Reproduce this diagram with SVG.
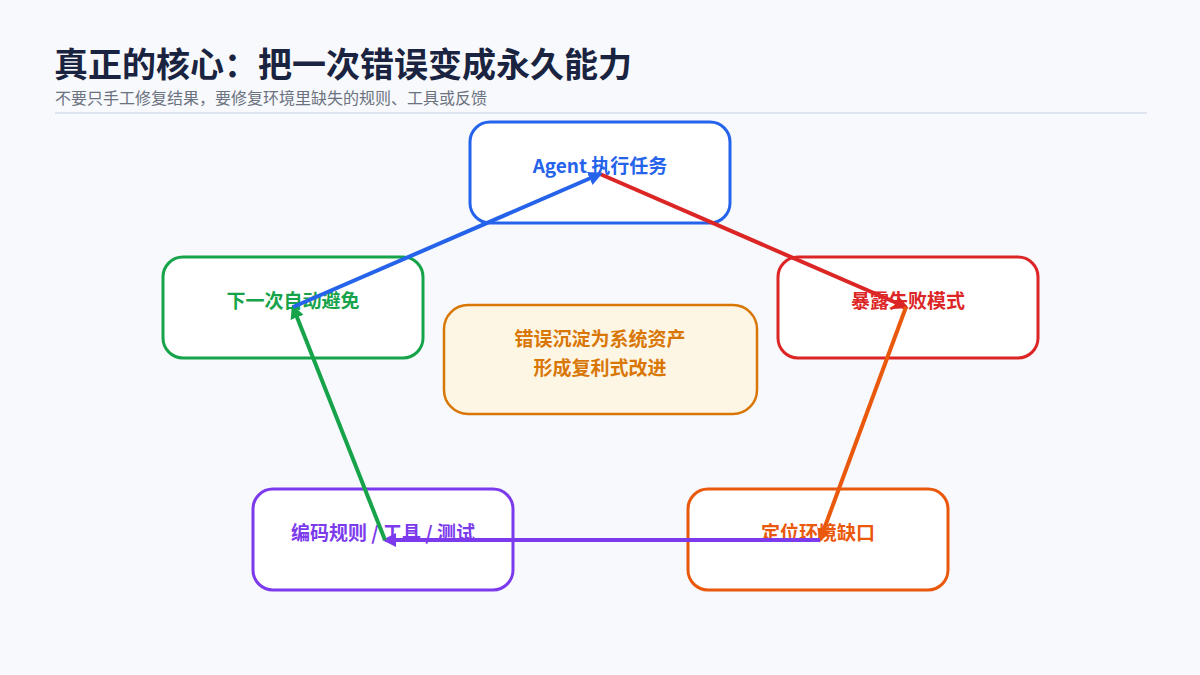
<svg xmlns="http://www.w3.org/2000/svg" width="1200" height="675" viewBox="0 0 1200 675">
<style>
.t{font-family:"Noto Sans CJK SC","Noto Sans",sans-serif;font-weight:bold;text-anchor:middle;dominant-baseline:middle;font-size:19px}
.box{fill:#fff;stroke-width:3}
.c{fill:none;stroke-width:4}
</style>
<defs>
<marker id="mr" viewBox="0 0 10 10" refX="8" refY="5" markerWidth="3.5" markerHeight="3.5" orient="auto"><path d="M0,0L10,5L0,10z" fill="#dc2626"/></marker>
<marker id="mo" viewBox="0 0 10 10" refX="8" refY="5" markerWidth="3.5" markerHeight="3.5" orient="auto"><path d="M0,0L10,5L0,10z" fill="#ea580c"/></marker>
<marker id="mp" viewBox="0 0 10 10" refX="8" refY="5" markerWidth="3.5" markerHeight="3.5" orient="auto"><path d="M0,0L10,5L0,10z" fill="#7c3aed"/></marker>
<marker id="mg" viewBox="0 0 10 10" refX="8" refY="5" markerWidth="3.5" markerHeight="3.5" orient="auto"><path d="M0,0L10,5L0,10z" fill="#16a34a"/></marker>
<marker id="mb" viewBox="0 0 10 10" refX="8" refY="5" markerWidth="3.5" markerHeight="3.5" orient="auto"><path d="M0,0L10,5L0,10z" fill="#2563eb"/></marker>
</defs>
<rect width="1200" height="675" fill="#f7f9fc"/>
<text x="54" y="77" font-family="Noto Sans CJK SC,sans-serif" font-weight="bold" font-size="34" fill="#1a2440">真正的核心：把一次错误变成永久能力</text>
<text x="55" y="104" font-family="Noto Sans CJK SC,sans-serif" font-size="16" fill="#6b7280">不要只手工修复结果，要修复环境里缺失的规则、工具或反馈</text>
<line x1="55" y1="113" x2="1147" y2="113" stroke="#d6deec" stroke-width="1.5"/>
<g id="n1"><rect class="box" x="470" y="122" width="260" height="101" rx="20" stroke="#2563eb"/><text class="t" x="600" y="168" fill="#2563eb">Agent 执行任务</text></g>
<g id="n2"><rect class="box" x="778" y="257" width="260" height="101" rx="20" stroke="#dc2626"/><text class="t" x="908" y="303" fill="#dc2626">暴露失败模式</text></g>
<g id="n3"><rect class="box" x="688" y="489" width="260" height="101" rx="20" stroke="#ea580c"/><text class="t" x="818" y="535" fill="#ea580c">定位环境缺口</text></g>
<g id="n4"><rect class="box" x="253" y="489" width="260" height="101" rx="20" stroke="#7c3aed"/><text class="t" x="383" y="535" fill="#7c3aed">编码规则 / 工具 / 测试</text></g>
<g id="n5"><rect class="box" x="163" y="257" width="260" height="101" rx="20" stroke="#16a34a"/><text class="t" x="293" y="303" fill="#16a34a">下一次自动避免</text></g>
<g id="center"><rect x="444" y="305" width="313" height="109" rx="24" fill="#fef6e4" stroke="#d97706" stroke-width="2.5"/><text class="t" x="600" y="341" fill="#d97706" font-size="20">错误沉淀为系统资产</text><text class="t" x="600" y="370" fill="#d97706" font-size="20">形成复利式改进</text></g>
<g id="connectors">
<line class="c" x1="600" y1="174" x2="906" y2="307" stroke="#dc2626" marker-end="url(#mr)"/>
<line class="c" x1="906" y1="307" x2="820" y2="540" stroke="#ea580c" marker-end="url(#mo)"/>
<line class="c" x1="820" y1="540" x2="385" y2="540" stroke="#7c3aed" marker-end="url(#mp)"/>
<line class="c" x1="385" y1="540" x2="293" y2="307" stroke="#16a34a" marker-end="url(#mg)"/>
<line class="c" x1="293" y1="307" x2="600" y2="174" stroke="#2563eb" marker-end="url(#mb)"/>
</g>
</svg>
